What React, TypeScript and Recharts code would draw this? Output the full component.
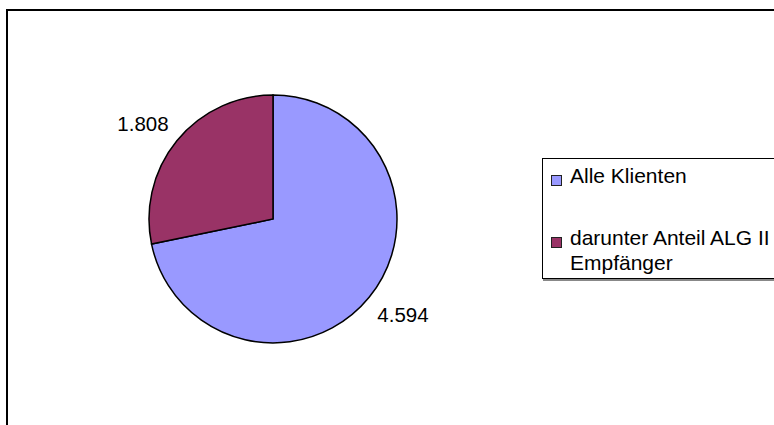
import React from 'react';
import { PieChart, Pie, Cell, Legend } from 'recharts';

const categories = ['Alle Klienten', 'darunter Anteil ALG II Empfänger'];
const legendLines = [['Alle Klienten'], ['darunter Anteil ALG II', 'Empfänger']];
const values = [4594, 1808];
const colors = ['#9999FF', '#993366'];

const data = categories.map((name, i) => ({ name, value: values[i] }));

const fmt = (v: number) => String(v).replace(/\B(?=(\d{3})+(?!\d))/g, '.');

const FONT = '"Liberation Sans", Arial, sans-serif';
const RADIAN = Math.PI / 180;

const renderLabel = (props: any) => {
  const { cx, cy, midAngle, outerRadius, value } = props;
  const r = outerRadius + 37;
  const a = (midAngle + 3) * RADIAN;
  const x = cx + r * Math.cos(a);
  const y = cy - r * Math.sin(a);
  return (
    <text
      x={x}
      y={y}
      textAnchor="middle"
      dominantBaseline="central"
      fontFamily={FONT}
      fontSize={20.5}
      fill="#000"
    >
      {fmt(value)}
    </text>
  );
};

const LegendBox = (props: any) => {
  const payload = props.payload || [];
  const tops = [5, 67];
  return (
    <div
      style={{
        position: 'relative',
        width: 260,
        height: 121,
        border: '1px solid #000',
        boxShadow: '1px 2px 0 #888',
        background: '#fff',
        fontFamily: FONT,
        fontSize: 21,
        lineHeight: '25px',
        color: '#000',
        boxSizing: 'border-box',
      }}
    >
      {payload.map((p: any, i: number) => (
        <React.Fragment key={i}>
          <div
            style={{
              position: 'absolute',
              left: 8,
              top: tops[i] + 11,
              width: 11,
              height: 11,
              boxSizing: 'border-box',
              background: p.color,
              border: '1px solid #222',
            }}
          />
          <div
            style={{
              position: 'absolute',
              left: 27,
              top: tops[i] - 1,
              whiteSpace: 'nowrap',
            }}
          >
            {legendLines[i].map((l, j) => (
              <div key={j}>{l}</div>
            ))}
          </div>
        </React.Fragment>
      ))}
    </div>
  );
};

export default function App() {
  return (
    <div
      style={{
        position: 'absolute',
        left: 0,
        top: 0,
        width: 774,
        height: 425,
        overflow: 'hidden',
        background: '#fff',
      }}
    >
      <div
        style={{
          position: 'absolute',
          left: 6,
          top: 9,
          width: 820,
          height: 460,
          border: '2px solid #000',
          boxSizing: 'border-box',
        }}
      />
      <div style={{ position: 'absolute', left: 0, top: 0 }}>
        <PieChart width={774} height={425} margin={{ top: 0, right: 0, bottom: 0, left: 0 }}>
          <Pie
            data={data}
            dataKey="value"
            nameKey="name"
            cx={273}
            cy={219}
            outerRadius={124}
            startAngle={90}
            endAngle={-270}
            stroke="#000"
            strokeWidth={1.5}
            label={renderLabel}
            labelLine={false}
            isAnimationActive={false}
          >
            {data.map((d, i) => (
              <Cell key={d.name} fill={colors[i]} />
            ))}
          </Pie>
          <Legend
            content={<LegendBox />}
            wrapperStyle={{ position: 'absolute', left: 542, top: 158, width: 260 }}
          />
        </PieChart>
      </div>
    </div>
  );
}
